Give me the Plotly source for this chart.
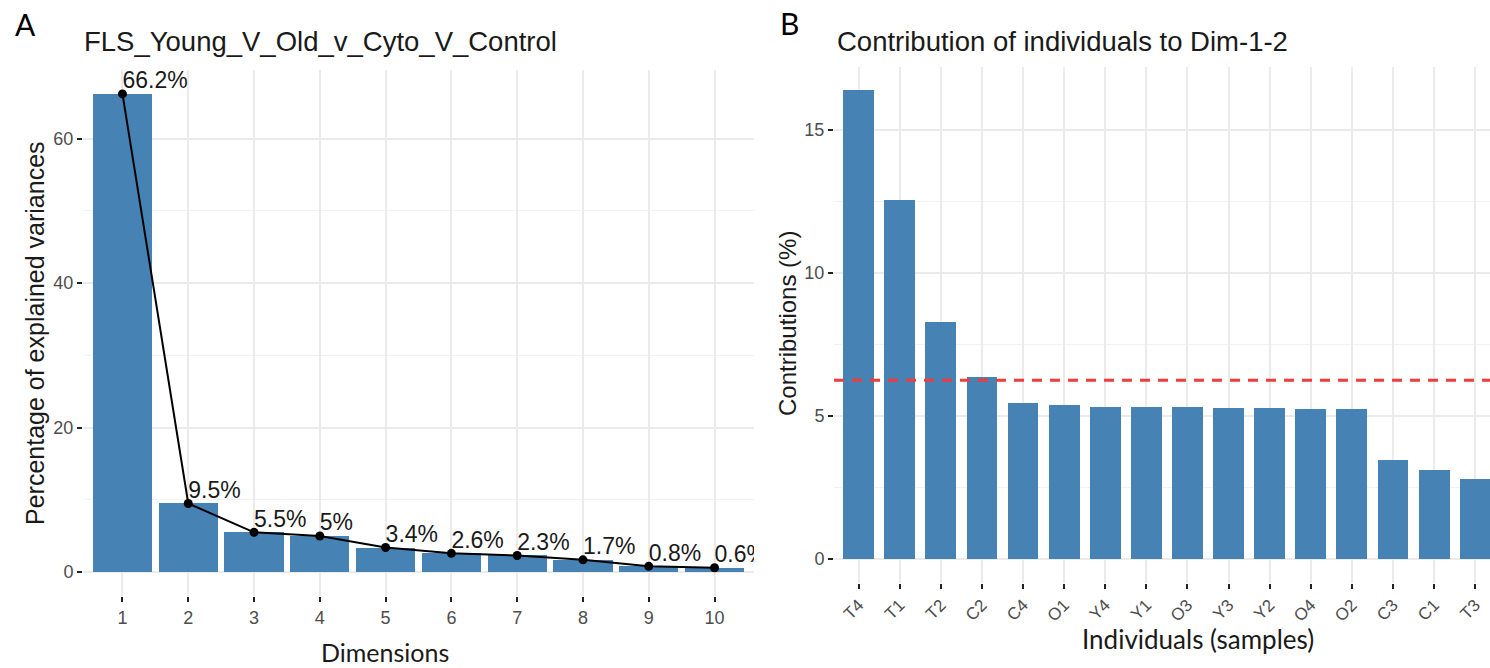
import plotly.graph_objects as go

# ---- Panel A: scree plot of explained variance ----
dims = [1, 2, 3, 4, 5, 6, 7, 8, 9, 10]
dim_ticks = ["1", "2", "3", "4", "5", "6", "7", "8", "9", "10"]
explained = [66.2, 9.5, 5.5, 5.0, 3.4, 2.6, 2.3, 1.7, 0.8, 0.6]

# ---- Panel B: contribution of individuals to Dim-1-2 ----
individuals = ["T4", "T1", "T2", "C2", "C4", "O1", "Y4", "Y1",
               "O3", "Y3", "Y2", "O4", "O2", "C3", "C1", "T3"]
contrib = [16.38, 12.56, 8.27, 6.36, 5.47, 5.40, 5.33, 5.33,
           5.30, 5.27, 5.27, 5.26, 5.24, 3.45, 3.10, 2.81]
expected_contrib = 100.0 / len(individuals)

W, H = 1490, 668
STEEL = "#4682B4"
GRID = "#EBEBEB"
TICKTXT = "#4D4D4D"
SANS = "Liberation Sans, Arial, sans-serif"
ALT = "Lato, Open Sans, sans-serif"


def px_x(x):
    return x / W


def px_y(y):
    return 1 - y / H


fig = go.Figure()

# Panel A bars, line, points and percentage labels
fig.add_trace(go.Bar(x=dims, y=explained, width=0.9, marker=dict(color=STEEL, line=dict(width=0)),
                     xaxis="x", yaxis="y", showlegend=False, hoverinfo="skip"))
fig.add_trace(go.Scatter(x=dims, y=explained, mode="lines+markers",
                         line=dict(color="black", width=2),
                         marker=dict(color="black", size=9),
                         xaxis="x", yaxis="y", showlegend=False, hoverinfo="skip"))
fig.add_trace(go.Scatter(x=dims, y=explained, mode="text",
                         text=[f"{v:g}%" for v in explained],
                         textposition="top right",
                         textfont=dict(family=SANS, size=23, color="#1A1A1A"),
                         cliponaxis=True,
                         xaxis="x", yaxis="y", showlegend=False, hoverinfo="skip"))

# Panel B bars
fig.add_trace(go.Bar(x=individuals, y=contrib, width=0.75, marker=dict(color=STEEL, line=dict(width=0)),
                     xaxis="x2", yaxis="y2", showlegend=False, hoverinfo="skip"))

axis_common = dict(
    ticks="outside", ticklen=5, tickwidth=2, tickcolor="#222222",
    showgrid=True, gridcolor=GRID, gridwidth=1.5,
    zeroline=False, showline=False,
    tickfont=dict(family=SANS, size=18, color=TICKTXT),
)

a_ymin = -0.05 * max(explained)
a_ymax = max(explained) * 1.05
b_ymin = -0.05 * max(contrib)
b_ymax = max(contrib) * 1.05

fig.update_layout(
    width=W, height=H, autosize=False,
    margin=dict(l=0, r=0, t=0, b=0),
    paper_bgcolor="white", plot_bgcolor="white",
    bargap=0,
    xaxis=dict(domain=[px_x(83), px_x(754)], range=[0.4, 10.6],
               tickvals=dims, ticktext=dim_ticks, anchor="y", **axis_common),
    yaxis=dict(domain=[px_y(596), px_y(70)], range=[a_ymin, a_ymax],
               tickvals=[0, 20, 40, 60], anchor="x",
               minor=dict(tickvals=[10, 30, 50], showgrid=True, gridcolor="#F2F2F2",
                          gridwidth=1, ticks=""),
               **axis_common),
    xaxis2=dict(domain=[px_x(834), 1.0], range=[-0.6, 15.36],
                type="category", categoryorder="array", categoryarray=individuals,
                tickangle=-45, anchor="y2",
                **{**axis_common, "tickfont": dict(family=SANS, size=17, color=TICKTXT)}),
    yaxis2=dict(domain=[px_y(582.5), px_y(67)], range=[b_ymin, b_ymax],
                tickvals=[0, 5, 10, 15], anchor="x2",
                minor=dict(tickvals=[2.5, 7.5, 12.5], showgrid=True, gridcolor="#F2F2F2",
                           gridwidth=1, ticks=""),
                **axis_common),
)

# Expected average contribution reference line
fig.add_shape(type="line", xref="x2 domain", yref="y2", x0=0, x1=1,
              y0=expected_contrib, y1=expected_contrib,
              line=dict(color="#F03C3C", width=3, dash="10px,8px"))

# Titles, axis titles and panel letters
texts = [
    dict(text="A", x=25.5, y=24, font=dict(family=ALT, size=30, color="black"), xanchor="center"),
    dict(text="B", x=789, y=23, font=dict(family=ALT, size=30, color="black"), xanchor="center"),
    dict(text="FLS_Young_V_Old_v_Cyto_V_Control", x=82, y=41,
         font=dict(family=SANS, size=27.5, color="#1A1A1A"), xanchor="left"),
    dict(text="Contribution of individuals to Dim-1-2", x=835, y=41,
         font=dict(family=SANS, size=27.5, color="#1A1A1A"), xanchor="left"),
    dict(text="Percentage of explained variances", x=35, y=333, textangle=-90,
         font=dict(family=SANS, size=25, color="#1A1A1A"), xanchor="center"),
    dict(text="Contributions (%)", x=788, y=324, textangle=-90,
         font=dict(family=SANS, size=24, color="#1A1A1A"), xanchor="center"),
    dict(text="Dimensions", x=385, y=652,
         font=dict(family=ALT, size=25, color="#1A1A1A"), xanchor="center"),
    dict(text="Individuals (samples)", x=1198, y=639,
         font=dict(family=ALT, size=26, color="#1A1A1A"), xanchor="center"),
]
for t in texts:
    fig.add_annotation(
        text=t["text"], x=px_x(t["x"]), y=px_y(t["y"]), xref="paper", yref="paper",
        xanchor=t["xanchor"], yanchor="middle", showarrow=False,
        textangle=t.get("textangle", 0), font=t["font"],
    )

fig.write_html("out.html")
